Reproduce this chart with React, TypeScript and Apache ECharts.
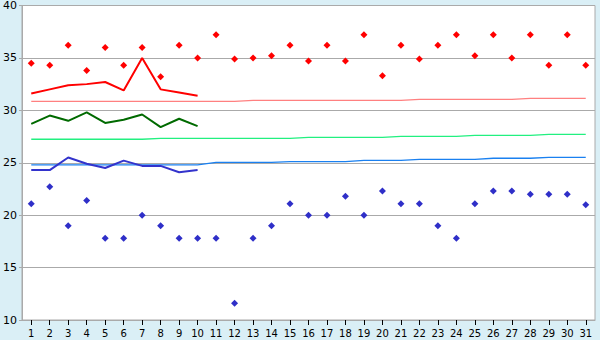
import React, { useEffect, useRef } from "react";
import * as echarts from "echarts";

const days = ["1","2","3","4","5","6","7","8","9","10","11","12","13","14","15","16","17","18","19","20","21","22","23","24","25","26","27","28","29","30","31"];

const redPoints = [34.5, 34.3, 36.2, 33.8, 36.0, 34.3, 36.0, 33.2, 36.2, 35.0, 37.2, 34.9, 35.0, 35.2, 36.2, 34.7, 36.2, 34.7, 37.2, 33.3, 36.2, 34.9, 36.2, 37.2, 35.2, 37.2, 35.0, 37.2, 34.3, 37.2, 34.3];
const bluePoints = [21.1, 22.7, 19.0, 21.4, 17.8, 17.8, 20.0, 19.0, 17.8, 17.8, 17.8, 11.6, 17.8, 19.0, 21.1, 20.0, 20.0, 21.8, 20.0, 22.3, 21.1, 21.1, 19.0, 17.8, 21.1, 22.3, 22.3, 22.0, 22.0, 22.0, 21.0];

const redLine = [31.6, 32.0, 32.4, 32.5, 32.7, 31.9, 35.0, 32.0, 31.7, 31.4];
const greenLine = [28.7, 29.5, 29.0, 29.8, 28.8, 29.1, 29.6, 28.4, 29.2, 28.5];
const blueLine = [24.3, 24.3, 25.5, 24.9, 24.5, 25.2, 24.7, 24.7, 24.1, 24.3];

const pinkAvg = [30.86, 30.86, 30.86, 30.86, 30.86, 30.86, 30.86, 30.86, 30.86, 30.86, 30.86, 30.86, 30.95, 30.95, 30.95, 30.95, 30.95, 30.95, 30.95, 30.95, 30.95, 31.05, 31.05, 31.05, 31.05, 31.05, 31.05, 31.14, 31.14, 31.14, 31.14];
const lightGreenAvg = [27.24, 27.24, 27.24, 27.24, 27.24, 27.24, 27.24, 27.33, 27.33, 27.33, 27.33, 27.33, 27.33, 27.33, 27.33, 27.43, 27.43, 27.43, 27.43, 27.43, 27.52, 27.52, 27.52, 27.52, 27.62, 27.62, 27.62, 27.62, 27.71, 27.71, 27.71];
const lightBlueAvg = [24.79, 24.79, 24.79, 24.79, 24.79, 24.79, 24.79, 24.79, 24.79, 24.79, 25.03, 25.03, 25.03, 25.03, 25.1, 25.1, 25.1, 25.1, 25.22, 25.22, 25.22, 25.33, 25.33, 25.33, 25.33, 25.43, 25.43, 25.43, 25.52, 25.52, 25.52];

const FONT = "DejaVu Sans";

export default function App() {
  const ref = useRef<HTMLDivElement>(null);
  useEffect(() => {
    if (!ref.current) return;
    const chart = echarts.init(ref.current, null, { renderer: "svg" });
    const thin = (data: number[], color: string) => ({
      type: "line",
      data,
      showSymbol: false,
      symbol: "none",
      lineStyle: { color, width: 1.3 },
      z: 2,
      silent: true,
    });
    const thick = (data: number[], color: string) => ({
      type: "line",
      data,
      showSymbol: false,
      symbol: "none",
      lineStyle: { color, width: 2 },
      z: 3,
      silent: true,
    });
    const pts = (data: number[], color: string) => ({
      type: "scatter",
      data,
      symbol: "diamond",
      symbolSize: 7,
      itemStyle: { color, opacity: 1 },
      z: 4,
      silent: true,
    });
    chart.setOption({
      animation: false,
      backgroundColor: "#daeff6",
      grid: {
        left: 20,
        right: 5,
        top: 5,
        bottom: 20,
        show: true,
        backgroundColor: "#ffffff",
        borderColor: "#aaaaaa",
        borderWidth: 1,
      },
      xAxis: {
        type: "category",
        data: days,
        boundaryGap: true,
        axisLine: { show: true, lineStyle: { color: "#aaaaaa", width: 1 } },
        axisTick: { show: true, alignWithLabel: true, interval: 0, length: 5, lineStyle: { color: "#000000" } },
        axisLabel: { interval: 0, margin: 8, color: "#000000", fontFamily: FONT, fontSize: 10 },
        splitLine: { show: false },
      },
      yAxis: {
        type: "value",
        min: 10,
        max: 40,
        interval: 5,
        axisLine: { show: true, lineStyle: { color: "#aaaaaa", width: 1 } },
        axisTick: { show: true, length: 3, lineStyle: { color: "#aaaaaa" } },
        axisLabel: { margin: 5, color: "#000000", fontFamily: FONT, fontSize: 11 },
        splitLine: { show: true, lineStyle: { color: "#aaaaaa", width: 1 } },
      },
      series: [
        thin(pinkAvg, "#ff8080"),
        thin(lightGreenAvg, "#22f080"),
        thin(lightBlueAvg, "#1a80f0"),
        thick(redLine, "#ff0000"),
        thick(greenLine, "#006a00"),
        thick(blueLine, "#3333cc"),
        pts(redPoints, "#ff0000"),
        pts(bluePoints, "#2f2fc8"),
      ],
    });
    return () => chart.dispose();
  }, []);
  return (
    <div
      ref={ref}
      style={{ position: "fixed", left: 0, top: 0, width: 600, height: 340 }}
    />
  );
}
